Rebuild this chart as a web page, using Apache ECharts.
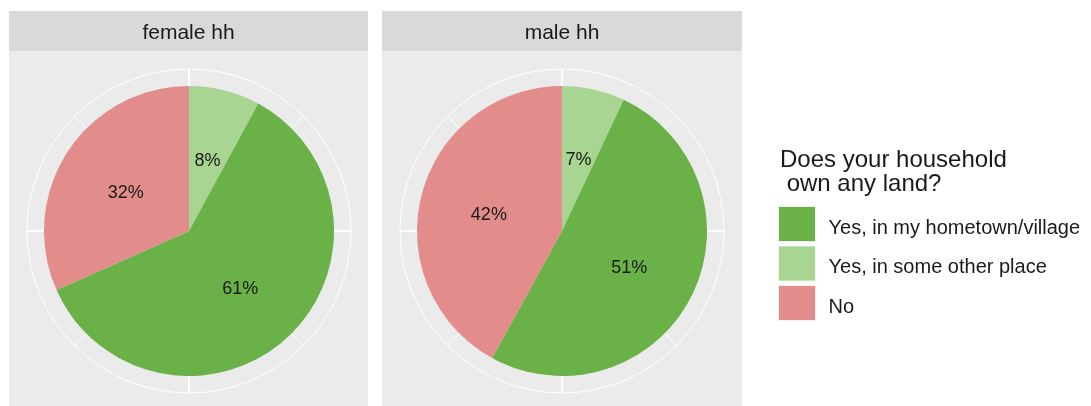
<!DOCTYPE html>
<html>
<head>
<meta charset="utf-8">
<script src="https://cdn.jsdelivr.net/npm/echarts@6/dist/echarts.min.js"></script>
<style>
  html, body { margin: 0; padding: 0; background: #fff; }
  #chart { width: 1091px; height: 406px; }
</style>
</head>
<body>
<div id="chart"></div>
<script>
// facets and answers (pie runs clockwise from 12 o'clock in this order)
const panels = ['female hh', 'male hh'];
const answers = ['Yes, in some other place', 'Yes, in my hometown/village', 'No'];
const legendOrder = ['Yes, in my hometown/village', 'Yes, in some other place', 'No'];
const femaleShare = [8, 61, 32];
const maleShare = [7, 51, 42];
const answerColors = ['#a8d591', '#6ab247', '#e28c8c'];

const font = 'Liberation Sans, Arial, sans-serif';
const panelBoxes = [
    { x: 9, w: 359, cx: 189 },
    { x: 382, w: 360, cx: 562 }
];
const cy = 231;

const chart = echarts.init(document.getElementById('chart'), null, { renderer: 'canvas' });

// strips + grey panels
const graphics = [];
panelBoxes.forEach((p, i) => {
    graphics.push({
        type: 'rect', z: -10,
        shape: { x: p.x, y: 11, width: p.w, height: 40 },
        style: { fill: '#d9d9d9' }
    });
    graphics.push({
        type: 'rect', z: -10,
        shape: { x: p.x, y: 51, width: p.w, height: 355 },
        style: { fill: '#ebebeb' }
    });
    graphics.push({
        type: 'text', z: -9,
        x: p.x + p.w / 2, y: 33,
        style: {
            text: panels[i], fill: '#1a1a1a', font: '21px ' + font,
            align: 'center', verticalAlign: 'middle'
        }
    });
});

function pieData(vals) {
    return answers.map((name, i) => ({
        name: name, value: vals[i],
        itemStyle: { color: answerColors[i] }
    }));
}

const series = [femaleShare, maleShare].map((vals, i) => ({
    type: 'pie',
    center: [panelBoxes[i].cx, cy],
    radius: 145,
    startAngle: 90,
    clockwise: true,
    silent: true,
    animation: false,
    label: {
        show: true, position: 'inside', formatter: '{c}%',
        color: '#1a1a1a', fontSize: 18, fontFamily: font
    },
    labelLayout: { dy: 3 },
    labelLine: { show: false },
    emphasis: { disabled: true },
    itemStyle: { borderWidth: 0 },
    data: pieData(vals)
}));

const option = {
    backgroundColor: '#fff',
    animation: false,
    graphic: graphics,
    title: {
        text: 'Does your household\n own any land?',
        left: 780, top: 148, padding: 0,
        textStyle: { fontFamily: font, fontSize: 24, fontWeight: 'normal', color: '#1a1a1a', lineHeight: 24 }
    },
    legend: {
        orient: 'vertical',
        left: 778, top: 206, padding: 0,
        icon: 'rect',
        itemWidth: 37, itemHeight: 35, itemGap: 3.5,
        selectedMode: false,
        data: legendOrder,
        itemStyle: { borderColor: '#f2f2f2', borderWidth: 1 },
        formatter: name => '{s|}\n{t|' + name + '}',
        textStyle: {
            fontFamily: font, fontSize: 20, color: '#1a1a1a', padding: [0, 0, 0, 8],
            rich: {
                s: { lineHeight: 8, fontSize: 1 },
                t: { fontFamily: font, fontSize: 20, color: '#1a1a1a', lineHeight: 23 }
            }
        }
    },
    polar: panelBoxes.map(p => ({ center: [p.cx, cy], radius: 162 })),
    angleAxis: panelBoxes.map((p, i) => ({
        polarIndex: i,
        type: 'value', min: 0, max: 4, interval: 1,
        startAngle: 90, clockwise: true,
        axisLine: { show: true, lineStyle: { color: '#fff', width: 1 } },
        axisTick: { show: false },
        axisLabel: { show: false },
        splitLine: { show: true, lineStyle: { color: '#fff', width: 2 } },
        minorTick: { show: false, splitNumber: 2 },
        minorSplitLine: { show: true, lineStyle: { color: '#fff', width: 1 } }
    })),
    radiusAxis: panelBoxes.map((p, i) => ({
        polarIndex: i,
        type: 'value', min: 0, max: 1,
        axisLine: { show: false },
        axisTick: { show: false },
        axisLabel: { show: false },
        splitLine: { show: false }
    })),
    series: series
};

chart.setOption(option);
</script>
</body>
</html>
